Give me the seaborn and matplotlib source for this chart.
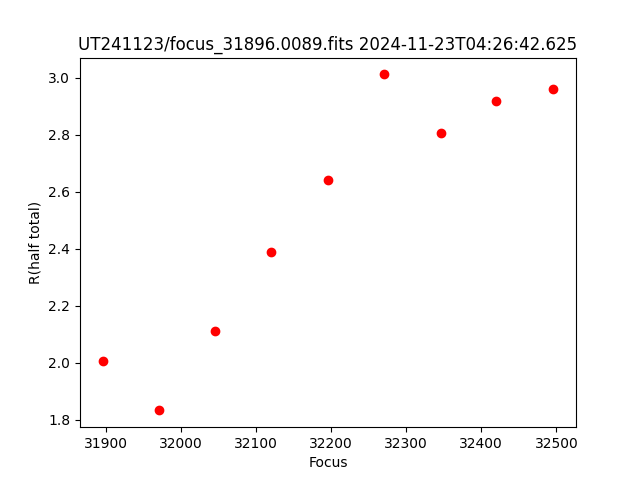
import seaborn as sns
import matplotlib
matplotlib.use("Agg")
import matplotlib.pyplot as plt
import pandas as pd

# focus positions and measured half-total radius
focus = [31896, 31971, 32046, 32120, 32196, 32271, 32346, 32420, 32496]
r_half = [2.005, 1.832, 2.112, 2.387, 2.639, 3.011, 2.804, 2.917, 2.959]

df = pd.DataFrame({"Focus": focus, "R": r_half})

fig = plt.figure(figsize=(6.4, 4.8), dpi=100)
ax = sns.scatterplot(data=df, x="Focus", y="R", color="red",
                     edgecolor="red", linewidth=1, s=36)

plt.title("UT241123/focus_31896.0089.fits 2024-11-23T04:26:42.625")
plt.xlabel("Focus")
plt.ylabel("R(half total)")

plt.savefig("out.png", dpi=100)
plt.close()
